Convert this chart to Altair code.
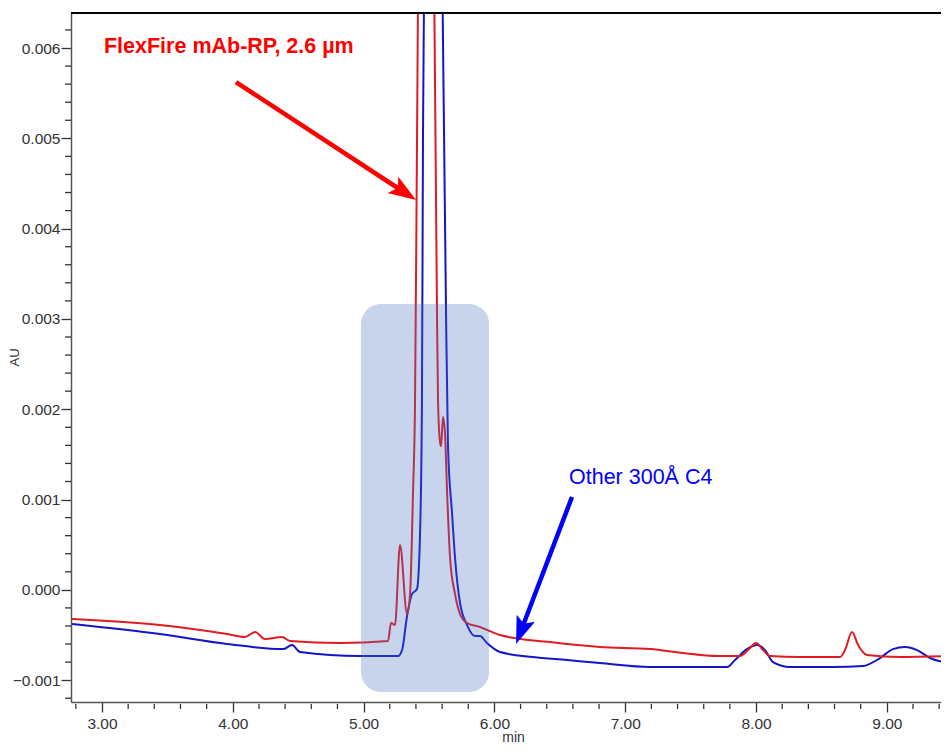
import math
import altair as alt
import pandas as pd

# ---------------- data (time in min, absorbance in AU) ----------------
red_t = [2.771, 3.443, 3.956, 4.093, 4.170, 4.246, 4.376, 4.437, 4.820, 5.187,
         5.209, 5.240, 5.278, 5.332, 5.355, 5.378, 5.393, 5.405, 5.416, 5.477,
         5.540, 5.561, 5.569, 5.584, 5.592, 5.607, 5.622, 5.638, 5.661, 5.699,
         5.737, 5.791, 5.890, 6.043, 6.425, 6.807, 7.190, 7.442, 7.702, 7.878,
         7.939, 8.000, 8.054, 8.107, 8.336, 8.642, 8.680, 8.734, 8.780, 8.848,
         9.101, 9.476]
red_au = [-0.000323, -0.000390, -0.000490, -0.000523, -0.000467, -0.000545, -0.000523,
          -0.000567, -0.000589, -0.000567, -0.000367, -0.000390, 0.000496, -0.000268,
          -0.000047, 0.001094, 0.002080, 0.004317, 0.006600, 0.030000, 0.006600,
          0.003076, 0.002080, 0.001637, 0.001592, 0.001914, 0.001736, 0.001094,
          0.000352, -0.000047, -0.000268, -0.000367, -0.000412, -0.000501, -0.000578,
          -0.000633, -0.000656, -0.000700, -0.000733, -0.000733, -0.000667, -0.000589,
          -0.000667, -0.000733, -0.000744, -0.000744, -0.000667, -0.000467, -0.000611,
          -0.000722, -0.000744, -0.000733]

blue_t = [2.771, 3.443, 3.956, 4.384, 4.453, 4.514, 4.972, 5.263, 5.294, 5.332,
          5.370, 5.408, 5.431, 5.446, 5.454, 5.462, 5.531, 5.603, 5.615, 5.630,
          5.645, 5.676, 5.699, 5.737, 5.791, 5.852, 5.890, 5.943, 6.043, 6.295,
          6.555, 6.807, 7.190, 7.572, 7.778, 7.839, 7.931, 8.008, 8.069, 8.130,
          8.260, 8.589, 8.818, 8.948, 9.047, 9.139, 9.231, 9.330, 9.476]
blue_au = [-0.000379, -0.000490, -0.000600, -0.000656, -0.000611, -0.000689, -0.000733,
           -0.000733, -0.000667, -0.000290, -0.000047, 0.000009, 0.000596, 0.002080,
           0.005048, 0.006600, 0.030000, 0.006600, 0.005048, 0.003076, 0.001592,
           0.000850, 0.000352, -0.000146, -0.000390, -0.000512, -0.000512, -0.000589,
           -0.000689, -0.000744, -0.000777, -0.000811, -0.000855, -0.000855, -0.000855,
           -0.000777, -0.000656, -0.000611, -0.000667, -0.000800, -0.000855, -0.000855,
           -0.000844, -0.000755, -0.000656, -0.000633, -0.000667, -0.000755, -0.000811]

x_major = [3, 4, 5, 6, 7, 8, 9]
x_minor = [2.8, 3.2, 3.4, 3.6, 3.8, 4.2, 4.4, 4.6, 4.8, 5.2, 5.4, 5.6, 5.8,
           6.2, 6.4, 6.6, 6.8, 7.2, 7.4, 7.6, 7.8, 8.2, 8.4, 8.6, 8.8, 9.2, 9.4]
y_major = [-0.001, 0.0, 0.001, 0.002, 0.003, 0.004, 0.005, 0.006]
y_minor = [-0.0012, -0.0008, -0.0006, -0.0004, -0.0002,
           0.0002, 0.0004, 0.0006, 0.0008, 0.0012, 0.0014, 0.0016, 0.0018,
           0.0022, 0.0024, 0.0026, 0.0028, 0.0032, 0.0034, 0.0036, 0.0038,
           0.0042, 0.0044, 0.0046, 0.0048, 0.0052, 0.0054, 0.0056, 0.0058,
           0.0062]

# highlighted region (min, AU)
box_t = [4.980, 5.959]
box_au = [-0.001132, 0.003165]

# annotations: arrow start and tip (min, AU)
red_arrow = [(4.024, 0.005623), (5.401, 0.004317)]
blue_arrow = [(6.593, 0.001028), (6.165, -0.000600)]
red_label = ("FlexFire mAb-RP, 2.6 µm", 3.015, 0.006011)
blue_label = ("Other 300Å C4", 6.570, 0.001238)

X_DOMAIN = [2.763, 9.414]
Y_DOMAIN = [-0.001242, 0.006388]
W, H = 870, 689

RED_LINE = "#e11b22"
BLUE_LINE = "#1414c8"
FONT = "Liberation Sans"
AXIS_INK = "#333"

xs = alt.Scale(domain=X_DOMAIN, nice=False, zero=False)
ys = alt.Scale(domain=Y_DOMAIN, nice=False, zero=False)

px_x = W / (X_DOMAIN[1] - X_DOMAIN[0])
px_y = H / (Y_DOMAIN[1] - Y_DOMAIN[0])

red_df = pd.DataFrame({"t": red_t, "au": red_au})
blue_df = pd.DataFrame({"t": blue_t, "au": blue_au})

x_axis = alt.Axis(values=x_major, format=".2f", orient="bottom", grid=False,
                  ticks=True, tickSize=10, tickColor=AXIS_INK, tickWidth=1.3,
                  labelFont=FONT, labelFontSize=15.5, labelColor="#333",
                  labelPadding=4,
                  domainColor="#555", domainWidth=1.5,
                  title="min", titleFont=FONT, titleFontSize=14,
                  titleFontWeight="normal", titleColor="#333",
                  titleX=442, titleY=39, titleBaseline="alphabetic")
y_axis = alt.Axis(values=y_major, format=".3f", orient="left", grid=False,
                  ticks=True, tickSize=10, tickColor=AXIS_INK, tickWidth=1.3,
                  labelFont=FONT, labelFontSize=15.5, labelColor="#333",
                  labelPadding=1,
                  domainColor="#555", domainWidth=1.5,
                  title="AU", titleFont=FONT, titleFontSize=13,
                  titleFontWeight="normal", titleColor="#333",
                  titleX=-57, titleY=344, titleAngle=270, titleBaseline="middle")


def X(field):
    return alt.X(field, scale=xs, axis=x_axis)


def Y(field):
    return alt.Y(field, scale=ys, axis=y_axis)


blue_line = alt.Chart(blue_df).mark_line(color=BLUE_LINE, strokeWidth=2, clip=True,
                                         interpolate="monotone").encode(
    x=X("t:Q"), y=Y("au:Q"))
red_line = alt.Chart(red_df).mark_line(color=RED_LINE, strokeWidth=2, clip=True,
                                       interpolate="monotone").encode(
    x=X("t:Q"), y=Y("au:Q"))

# minor tick marks drawn through the shared scales
xmin_df = pd.DataFrame({"t": x_minor})
ymin_df = pd.DataFrame({"au": y_minor})
x_minor_ticks = alt.Chart(xmin_df).mark_rule(color=AXIS_INK, strokeWidth=1.3).encode(
    x=X("t:Q"), y=alt.value(H + 2), y2=alt.value(H + 7))
y_minor_ticks = alt.Chart(ymin_df).mark_rule(color=AXIS_INK, strokeWidth=1.3).encode(
    y=Y("au:Q"), x=alt.value(-6), x2=alt.value(0))

box_df = pd.DataFrame({"t1": [box_t[0]], "t2": [box_t[1]], "a1": [box_au[0]], "a2": [box_au[1]]})
box = alt.Chart(box_df).mark_rect(color="#4a6fc0", opacity=0.3, cornerRadius=20).encode(
    x=X("t1:Q"), x2="t2:Q", y=Y("a1:Q"), y2="a2:Q")

HEAD = "M0,0L0.62,1.75L0,1.38L-0.62,1.75Z"


def arrow(points, color):
    (t0, a0), (t1, a1) = points
    dx = (t1 - t0) * px_x
    dy = -(a1 - a0) * px_y
    length = math.hypot(dx, dy)
    ux, uy = dx / length, dy / length
    ang = math.degrees(math.atan2(ux, -uy)) % 360
    back = 16
    t_end = t1 - ux * back / px_x
    a_end = a1 + uy * back / px_y
    shaft_df = pd.DataFrame({"t": [t0, t_end], "au": [a0, a_end]})
    head_df = pd.DataFrame({"t": [t1], "au": [a1]})
    shaft = alt.Chart(shaft_df).mark_line(color=color, strokeWidth=4.5).encode(
        x=X("t:Q"), y=Y("au:Q"))
    head = alt.Chart(head_df).mark_point(shape=HEAD, filled=True, color=color, opacity=1,
                                         size=1000, angle=ang, strokeWidth=0).encode(
        x=X("t:Q"), y=Y("au:Q"))
    return shaft + head


def label(spec, color, weight):
    text, t, a = spec
    df = pd.DataFrame({"t": [t], "au": [a], "txt": [text]})
    return alt.Chart(df).mark_text(align="left", baseline="middle", font=FONT,
                                   fontSize=21.5, fontWeight=weight, color=color).encode(
        x=X("t:Q"), y=Y("au:Q"), text="txt:N")


top_rule = alt.Chart(red_df).mark_rule(color="black", strokeWidth=1).encode(
    x=alt.value(0), x2=alt.value(W), y=alt.value(0)
)

chart = alt.layer(
    blue_line,
    red_line,
    box,
    arrow(red_arrow, "#ff0000"),
    arrow(blue_arrow, "#0000ff"),
    label(red_label, "#ff0000", "bold"),
    label(blue_label, "#0000ff", "normal"),
    x_minor_ticks,
    y_minor_ticks,
    top_rule,
).properties(
    width=W, height=H,
    padding={"left": 63, "top": 5, "right": 0, "bottom": 41},
    autosize=alt.AutoSizeParams(type="none"),
    background="white",
).configure_view(stroke=None)

chart.save("out.html", embed_options={"renderer": "svg", "actions": False})
